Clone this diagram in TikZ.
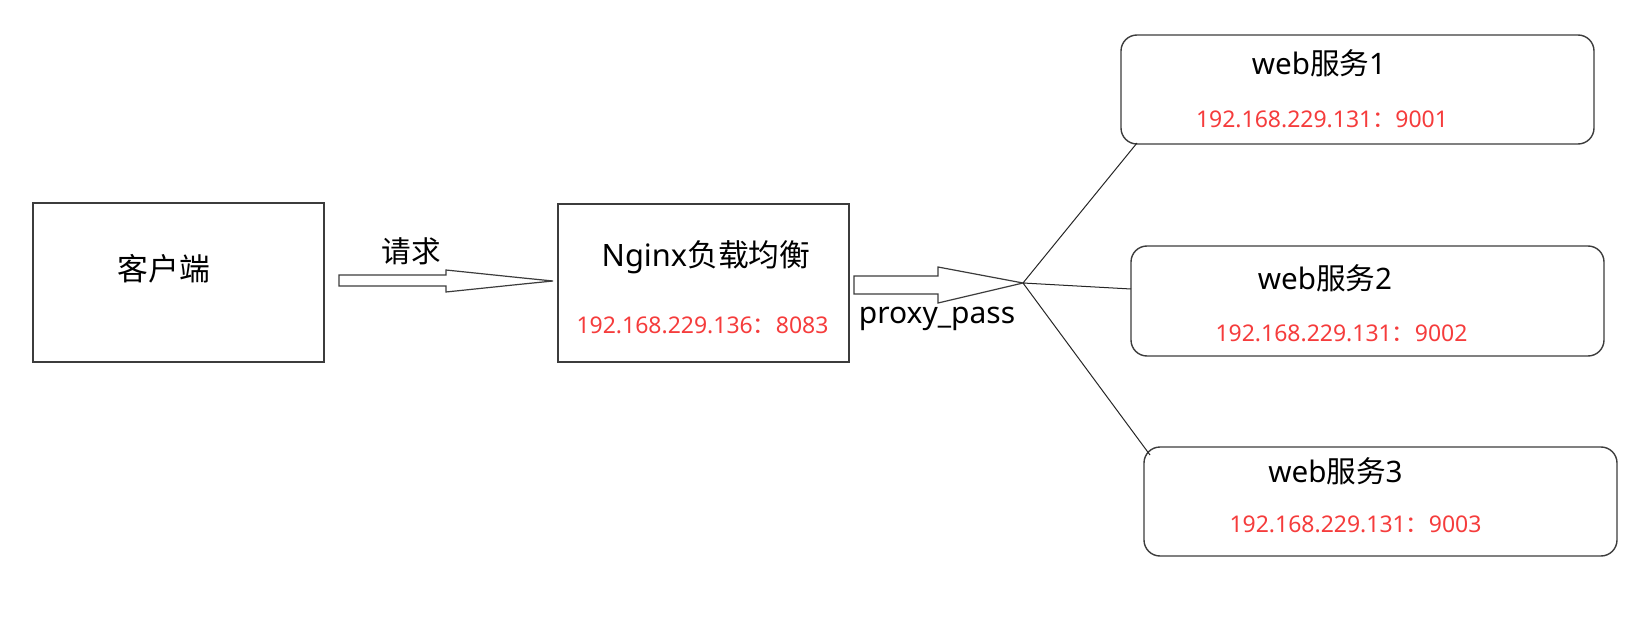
\documentclass[tikz,border=0pt]{standalone}
\usepackage{fontspec}
\setmainfont{Noto Sans}
\newfontfamily\cjk{Noto Sans CJK SC}
\usetikzlibrary{calc}
\definecolor{boxgray}{RGB}{60,60,60}
\definecolor{ipred}{RGB}{245,60,60}
\tikzset{
	plainbox/.style={draw=boxgray, line width=0.7pt, inner sep=0pt, outer sep=0pt},
	webbox/.style={plainbox, rounded corners=8pt, minimum width=236.5pt, minimum height=54.5pt},
	titletext/.style={font=\fontsize{14.8pt}{17pt}\selectfont, anchor=base, inner sep=0pt},
	bigtext/.style={titletext, font=\fontsize{15.4pt}{18pt}\selectfont},
	iptext/.style={text=ipred, font=\fontsize{11.5pt}{14pt}\selectfont, anchor=base, inner sep=0pt},
	blockarrow/.style={draw=boxgray, line width=0.6pt, fill=white, line join=miter},
	link/.style={draw=black!85, line width=0.5pt}
}

\begin{document}
\begin{tikzpicture}[x=0.5pt,y=-0.5pt]
	\useasboundingbox (0,0) rectangle (1646,631);
	% boxes
	\node[plainbox, minimum width=145.5pt, minimum height=79.5pt] (client) at (178.5,282.5) {};
	\node[plainbox, minimum width=145.5pt, minimum height=79pt] (nginx) at (703.5,283) {};
	\node[webbox] (web1) at (1357.5,89.5) {};
	\node[webbox, minimum height=55pt] (web2) at (1367.5,301) {};
	\node[webbox] (web3) at (1380.5,501.5) {};
	% texts
	\node[bigtext, anchor=center] (clienttxt) at (164,268.5) {\cjk 客户端};
	\node[bigtext] (nginxtxt) at (706,266.7) {Nginx{\cjk 负载均衡}};
	\node[iptext] (nginxip) at (702.5,333.3) {192.168.229.136{\cjk ：}8083};
	\node[titletext] (web1txt) at (1319,75) {web{\cjk 服务}1};
	\node[iptext] (web1ip) at (1322,128) {192.168.229.131{\cjk ：}9001};
	\node[titletext] (web2txt) at (1325,289) {web{\cjk 服务}2};
	\node[iptext] (web2ip) at (1341.5,342) {192.168.229.131{\cjk ：}9002};
	\node[titletext] (web3txt) at (1335.5,482) {web{\cjk 服务}3};
	\node[iptext] (web3ip) at (1355.5,532) {192.168.229.131{\cjk ：}9003};
	\node[titletext, anchor=center] (reqtxt) at (411.5,251) {\cjk 请求};
	\node[titletext, font=\fontsize{15pt}{18pt}\selectfont] (proxytxt) at (937,323) {proxy\_pass};
	% block arrows
	\coordinate (reqtip) at ($(nginx.west)+(-5,-2)$);
	\draw[blockarrow] (reqtip) -- ++(-30,3) -- ++(-77,8) -- ++(0,-6) -- ++(-107,0) -- ++(0,-11)
		-- ++(107,0) -- ++(0,-5) -- ++(77,8) -- cycle;
	\coordinate (hub) at ($(nginx.east)+(174,0)$);
	\draw[blockarrow] (hub) -- ++(-85,20) -- ++(0,-9) -- ++(-84,0) -- ++(0,-18) -- ++(84,0) -- ++(0,-9) -- cycle;
	% links
	\draw[link] (hub) -- ($(web1.south west)+(16,-1)$);
	\draw[link] (hub) -- ($(web2.west)+(0,-12)$);
	\draw[link] (hub) -- ($(web3.north west)+(6,8)$);
\end{tikzpicture}
\end{document}
